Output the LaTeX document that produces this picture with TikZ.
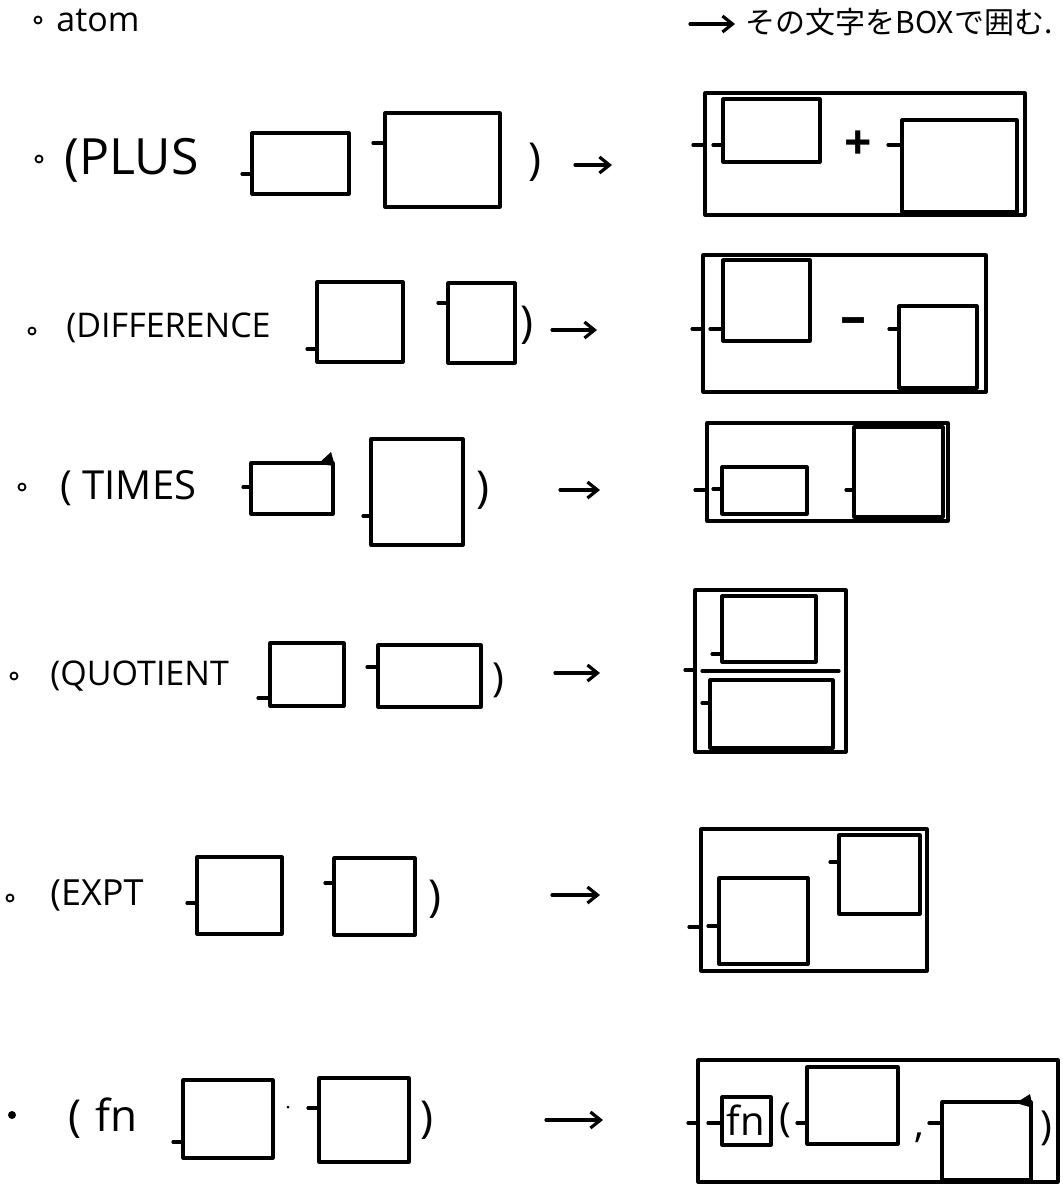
\documentclass[tikz,border=0pt]{standalone}
\usepackage{fontspec}
\setmainfont{Open Sans}
\newfontfamily\jpfont{Noto Sans CJK JP}
\usetikzlibrary{arrows.meta}
\tikzset{
  hand/.style={line width=1.6pt, line join=round, line cap=round},
  goes/.style={hand, -{Straight Barb[length=5pt,width=8pt]}},
  lbl/.style={anchor=west, inner sep=0pt},
  bul/.style={line width=0.9pt},
}

\begin{document}
\begin{tikzpicture}[x=0.5pt, y=-0.5pt]
		\useasboundingbox (0,0) rectangle (1063,1184);
		% atom
		\draw[bul] (38,20) circle[radius=3.5];
		\node[lbl, font=\fontsize{17}{18}\selectfont] (atom) at (56,20) {atom};
		\coordinate (atom-a) at (690,24);
		\coordinate (atom-b) at (735,24);
		\draw[goes] (atom-a) -- (atom-b);
		\node[lbl, font=\jpfont\fontsize{15}{16}\selectfont] (rule) at (745,22) {その文字をBOXで囲む.};
		% plus
		\draw[bul] (39,159) circle[radius=3.5];
		\node[lbl, font=\fontsize{25}{27}\selectfont] (plus) at (64,160) {(PLUS};
		\draw[hand] (242,174) -- (252,174) (252,133) rectangle (349,194);
		\draw[hand] (373,143) -- (385,143) (385,113) rectangle (500,207);
		\node[font=\fontsize{22}{24}\selectfont] (plus-end) at (535,162) {)};
		\coordinate (plus-a) at (575,165);
		\coordinate (plus-b) at (612,165);
		\draw[goes] (plus-a) -- (plus-b);
		\draw[hand] (693,145) -- (705,145) (705,93) rectangle (1025,215);
		\draw[hand] (713,145) -- (723,145) (723,99) rectangle (820,162);
		\node[font=\fontsize{24}{26}\selectfont\bfseries] (plus-op) at (858,145) {+};
		\draw[hand] (888,145) -- (902,145) (902,120) rectangle (1017,212);
		% difference
		\draw[bul] (32,331) circle[radius=3.5];
		\node[lbl, font=\fontsize{17}{18}\selectfont] (diff) at (66,328) {(DIFFERENCE};
		\draw[hand] (307,349) -- (317,349) (317,282) rectangle (403,362);
		\draw[hand] (438,303) -- (448,303) (448,283) rectangle (515,363);
		\node[font=\fontsize{22}{24}\selectfont] (diff-end) at (527,325) {)};
		\coordinate (diff-a) at (552,330);
		\coordinate (diff-b) at (597,330);
		\draw[goes] (diff-a) -- (diff-b);
		\draw[hand] (692,329) -- (703,329) (703,255) rectangle (986,392);
		\draw[hand] (710,329) -- (723,329) (723,260) rectangle (810,341);
		\node[font=\fontsize{26}{28}\selectfont\bfseries] (diff-op) at (853,326) {–};
		\draw[hand] (889,329) -- (899,329) (899,306) rectangle (977,388);
		% times
		\draw[bul] (22,487) circle[radius=3.5];
		\node[lbl, font=\fontsize{20}{22}\selectfont] (times) at (60,488) {( TIMES};
		\draw[hand] (243,487) -- (251,487) (251,463) rectangle (333,514);
		\fill (318,464) -- (331,452) -- (335,466) -- cycle;
		\draw[hand] (363,516) -- (371,516) (371,439) rectangle (463,545);
		\node[font=\fontsize{22}{24}\selectfont] (times-end) at (483,490) {)};
		\coordinate (times-a) at (560,490);
		\coordinate (times-b) at (600,490);
		\draw[goes] (times-a) -- (times-b);
		\draw[hand] (695,490) -- (707,490) (707,423) rectangle (948,521);
		\draw[hand] (713,489) -- (722,489) (722,467) rectangle (807,514);
		\draw[hand] (846,490) -- (854,490) (854,427) rectangle (943,517);
		% quotient
		\draw[bul] (14,676) circle[radius=3.5];
		\node[lbl, font=\fontsize{17}{18}\selectfont] (quot) at (50,676) {(QUOTIENT};
		\draw[hand] (258,698) -- (270,698) (270,643) rectangle (344,706);
		\draw[hand] (367,667) -- (378,667) (378,645) rectangle (481,707);
		\node[font=\fontsize{20}{22}\selectfont] (quot-end) at (498,680) {)};
		\coordinate (quot-a) at (555,673);
		\coordinate (quot-b) at (600,673);
		\draw[goes] (quot-a) -- (quot-b);
		\draw[hand] (685,670) -- (695,670) (695,590) rectangle (846,752);
		\draw[hand] (712,654) -- (722,654) (722,596) rectangle (816,662);
		\draw[hand] (702,671) -- (839,671);
		\draw[hand] (702,703) -- (710,703) (710,680) rectangle (833,748);
		% expt
		\draw[bul] (10,898) circle[radius=3.5];
		\node[lbl, font=\fontsize{18}{20}\selectfont] (expt) at (50,895) {(EXPT};
		\draw[hand] (187,903) -- (197,903) (197,857) rectangle (282,934);
		\draw[hand] (325,883) -- (334,883) (334,858) rectangle (415,935);
		\node[font=\fontsize{22}{24}\selectfont] (expt-end) at (435,899) {)};
		\coordinate (expt-a) at (552,895);
		\coordinate (expt-b) at (600,895);
		\draw[goes] (expt-a) -- (expt-b);
		\draw[hand] (689,927) -- (701,927) (701,829) rectangle (927,971);
		\draw[hand] (708,926) -- (719,926) (719,878) rectangle (808,964);
		\draw[hand] (830,862) -- (839,862) (839,835) rectangle (920,914);
		% fn
		\fill (12,1115) circle[radius=4];
		\node[lbl, font=\fontsize{22}{24}\selectfont] (fn) at (68,1118) {(\hspace{7pt}fn};
		\draw[hand] (173,1142) -- (183,1142) (183,1080) rectangle (273,1158);
		\fill (288,1107) circle[radius=1.5];
		\draw[hand] (308,1108) -- (319,1108) (319,1078) rectangle (409,1162);
		\node[font=\fontsize{22}{24}\selectfont] (fn-end) at (427,1120) {)};
		\coordinate (fn-a) at (546,1120);
		\coordinate (fn-b) at (603,1120);
		\draw[goes] (fn-a) -- (fn-b);
		\draw[hand] (688,1123) -- (698,1123) (698,1060) rectangle (1058,1182);
		\draw[hand] (708,1123) -- (722,1123) (722,1097) rectangle (771,1145);
		\node[font=\fontsize{20}{22}\selectfont] (fn-name) at (746,1120) {fn};
		\node[font=\fontsize{20}{22}\selectfont] (fn-open) at (785,1120) {(};
		\draw[hand] (797,1123) -- (807,1123) (807,1067) rectangle (898,1144);
		\node[font=\fontsize{20}{22}\selectfont] (fn-comma) at (919,1138) {,};
		\draw[hand] (929,1123) -- (942,1123) (942,1102) rectangle (1031,1180);
		\fill (1016,1103) -- (1030,1094) -- (1033,1108) -- cycle;
		\node[font=\fontsize{20}{22}\selectfont] (fn-close) at (1046,1128) {)};
	\end{tikzpicture}
\end{document}
